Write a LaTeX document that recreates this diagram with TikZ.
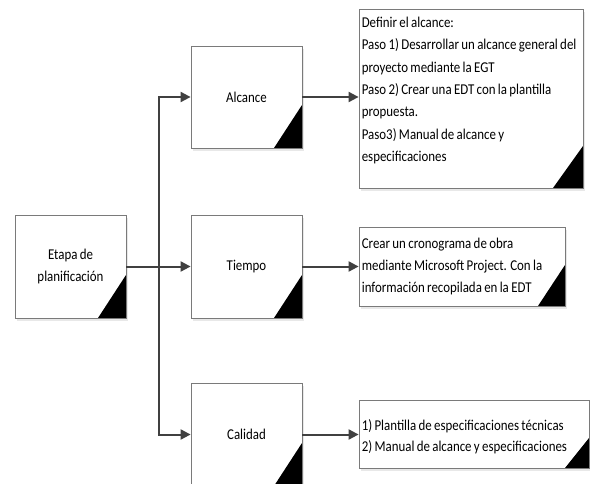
\documentclass[tikz,border=0pt]{standalone}
\usepackage{fontspec}
\setmainfont{Carlito}[FakeStretch=0.86, WordSpace=0.8]
\usetikzlibrary{arrows.meta}
\definecolor{linegray}{HTML}{404040}
\definecolor{boxgray}{HTML}{7A7A7A}
\tikzset{
  shadowed/.style={preaction={fill=black!9, transform canvas={shift={(2pt,-3pt)}}}},
  box/.style={draw=boxgray, line width=0.8pt, fill=white, shadowed,
    inner sep=0pt, align=center,
    font=\fontsize{15}{22.5}\selectfont},
  corner/.style 2 args={path picture={\fill[black] (path picture bounding box.south east) -- ++(-#1,0) -- ++(#1,-#2) -- cycle;}},
  stepbox/.style={box, minimum width=111pt, minimum height=103pt, corner={28}{43}},
  notebox/.style={box},
  notetext/.style={anchor=west, inner sep=0pt, align=left, xshift=3pt,
    font=\fontsize{15}{22.3}\selectfont},
  conn/.style={draw=linegray, line width=2pt, -{Triangle[length=10pt,width=10pt]}, shorten >=0pt}
}
\begin{document}
\begin{tikzpicture}[x=1pt,y=-1pt]
\useasboundingbox (0,0) rectangle (590,483);
\clip (0,0) rectangle (590,483);
\fill[white] (0,0) rectangle (590,483);

\node[stepbox] (etapa) at (70.5,266.5) {Etapa de\\planificación};
\node[stepbox, minimum height=102pt] (alcance) at (246.5,97) {Alcance};
\node[stepbox] (tiempo) at (246.5,266.5) {Tiempo};
\node[stepbox] (calidad) at (246.5,434.5) {Calidad};

\node[notebox, minimum width=224pt, minimum height=179pt, corner={30}{42}] (alcT) at (471,98.5) {};
\node[notetext, yshift=8pt] (alcTxt) at (alcT.west)
 {Definir el alcance:\\Paso 1) Desarrollar un alcance general del\\proyecto mediante la EGT\\Paso 2) Crear una EDT con la plantilla\\propuesta.\\Paso3) Manual de alcance y\\especificaciones};
\node[notebox, minimum width=206pt, minimum height=79pt, corner={27}{41}] (tiempoT) at (462,266.5) {};
\node[notetext] (tiempoTxt) at (tiempoT.west)
 {Crear un cronograma de obra\\mediante Microsoft Project. Con la\\información recopilada en la EDT};
\node[notebox, minimum width=230pt, minimum height=68pt, corner={24}{30}] (calidadT) at (474,434) {};
\node[notetext, yshift=-3pt, font=\fontsize{15}{21}\selectfont] (calidadTxt) at (calidadT.west)
 {1) Plantilla de especificaciones técnicas\\2) Manual de alcance y especificaciones};

\coordinate (junc) at (159,266.5);
\draw[conn] (etapa.east) -- (tiempo.west);
\draw[conn] (junc) |- (alcance.west);
\draw[conn] (junc) |- (calidad.west);
\draw[conn] (alcance.east) -- (alcT.west |- alcance.east);
\draw[conn] (tiempo.east) -- (tiempoT.west |- tiempo.east);
\draw[conn] (calidad.east) -- (calidadT.west |- calidad.east);
\end{tikzpicture}
\end{document}
